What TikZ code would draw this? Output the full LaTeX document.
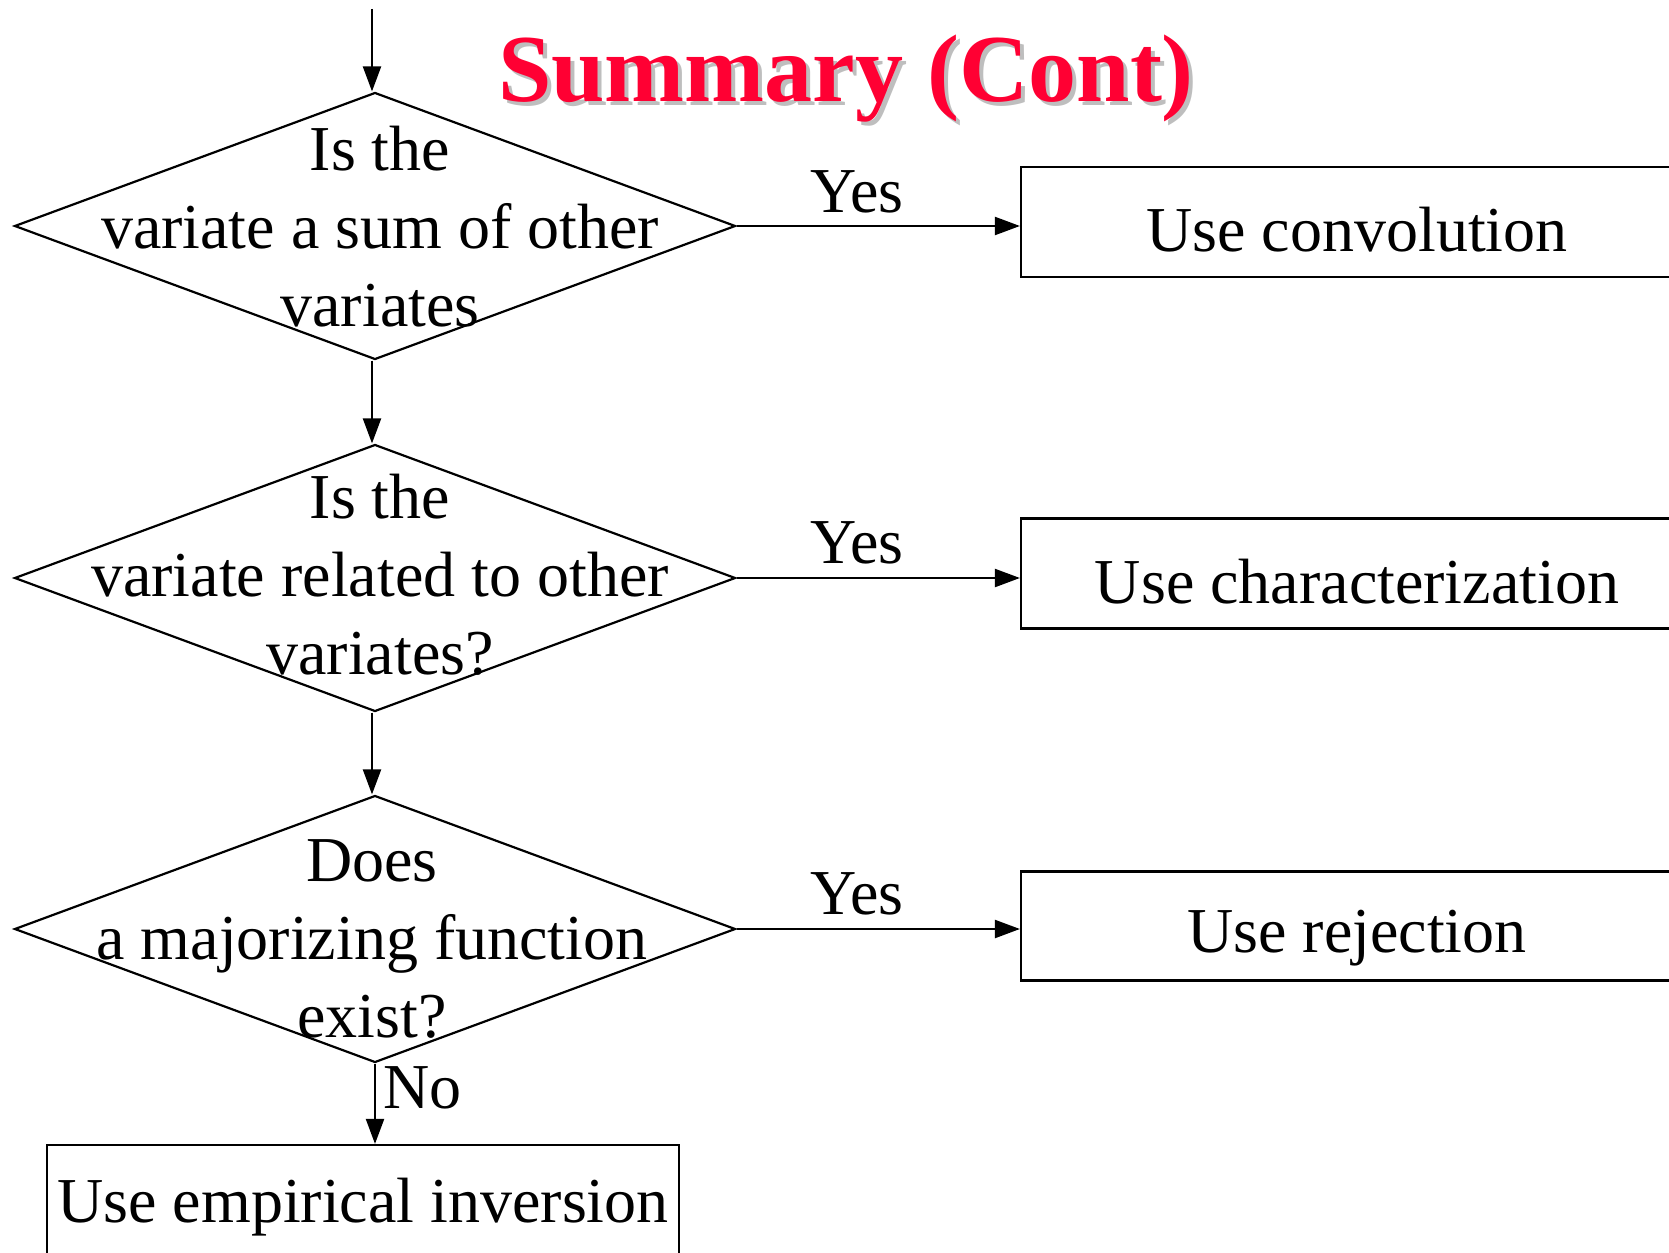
\documentclass[tikz,border=0pt]{standalone}
\usepackage{fontspec}
\setmainfont{Liberation Serif}
\usetikzlibrary{shapes.geometric,arrows.meta}
\definecolor{titlered}{RGB}{255,0,51}
\definecolor{shadowgray}{RGB}{190,190,190}
\tikzset{
  body/.style={font=\fontsize{64}{78}\selectfont, align=center, inner sep=0pt},
  dec/.style={draw, line width=2.2pt, shape=diamond, minimum width=721pt, minimum height=267pt, inner sep=0pt},
  actbox/.style={draw, line width=2.2pt, rectangle, inner sep=0pt},
  conn/.style={line width=2.2pt, -{Triangle[length=25pt,width=18pt]}},
  lbl/.style={font=\fontsize{64}{78}\selectfont, inner sep=0pt}
}
\begin{document}
\begin{tikzpicture}[x=1pt,y=-1pt]
\useasboundingbox (0,0) rectangle (1669,1252);
\clip (0,0) rectangle (1669,1252);
% title with drop shadow
\node[font=\fontsize{96}{110}\selectfont\bfseries, inner sep=0pt] (title) at (846,81)
  {\rlap{\hspace{4pt}\raisebox{-4pt}{\color{shadowgray}Summary (Cont)}}\textcolor{titlered}{Summary (Cont)}};
% decisions
\node[dec] (d1) at (375,226) {};
\node[dec] (d2) at (375,578) {};
\node[dec] (d3) at (375,929) {};
\node[body] (t1) at (380,227) {Is the\\variate a sum of other\\variates};
\node[body] (t2) at (380,575) {Is the\\variate related to other\\variates?};
\node[body] (t3) at (372,939) {Does\\a majorizing function\\exist?};
% action boxes
\node[actbox, minimum width=672pt, minimum height=110pt] (b1) at (1357,222) {};
\node[actbox, minimum width=672pt, minimum height=110pt] (b2) at (1357,573.5) {};
\node[actbox, minimum width=672pt, minimum height=109pt] (b3) at (1357,926) {};
\node[actbox, minimum width=632pt, minimum height=120pt] (b4) at (363,1205) {};
\node[body] (bt1) at (1357,230) {Use convolution};
\node[body] (bt2) at (1357,582) {Use characterization};
\node[body] (bt3) at (1357,938) {Use rejection};
\node[body] (bt4) at (363,1207) {Use empirical inversion};
% connectors
\coordinate (start) at (372,9);
\draw[conn] (start) -- (start |- d1.north);
\draw[conn] ([xshift=-3pt]d1.south) -- ([xshift=-3pt]d2.north);
\draw[conn] ([xshift=-3pt]d2.south) -- ([xshift=-3pt]d3.north);
\draw[conn] (d3.south) -- (d3.south |- b4.north);
\draw[conn] (d1.east) -- (d1.east -| b1.west);
\draw[conn] (d2.east) -- (d2.east -| b2.west);
\draw[conn] (d3.east) -- (d3.east -| b3.west);
% labels
\node[lbl] (y1) at (857,192) {Yes};
\node[lbl] (y2) at (857,543) {Yes};
\node[lbl] (y3) at (857,894) {Yes};
\node[lbl, anchor=west] (no) at (383,1088) {No};
\end{tikzpicture}
\end{document}
